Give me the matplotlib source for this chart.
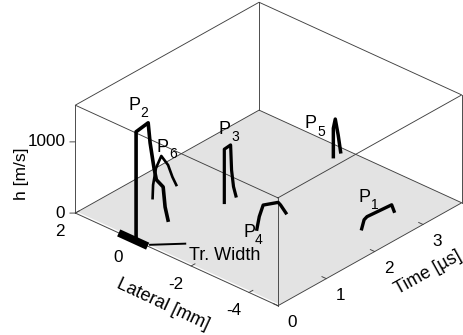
import numpy as np
import matplotlib
matplotlib.use("Agg")
import matplotlib.pyplot as plt
from mpl_toolkits.mplot3d import proj3d

plt.rcParams['font.family'] = ['Liberation Sans', 'DejaVu Sans']

W, H = 464, 335

# axis limits and ticks
time_lim = [0, 3.8]
lat_lim = [-5, 2]
h_lim = [0, 1515]
time_ticks = [0, 1, 2, 3]
lat_ticks = [2, 0, -2, -4]
h_ticks = [0, 1000]

# traces: time [us], lateral [mm], h [m/s]
p1_t = [2.33, 2.38, 2.44, 2.95, 3.00]
p1_l = -4.0
p1_h = [8, 116, 137, 109, 0]

p2_t = [0, 0, 0.25, 0.29, 0.37, 0.42, 0.56, 0.60, 0.66]
p2_l = -0.1
p2_h = [0, 1532, 1563, 1266, 883, 698, 544, 247, 40]

p3_t = [1.60, 1.60, 1.73, 1.75, 1.79, 1.84]
p3_l = -0.475
p3_h = [0, 748, 759, 397, 150, 0]

p4_t = [1.36, 1.41, 1.49, 1.80, 1.85, 1.96]
p4_l = -2.0
p4_h = [0, 158, 289, 209, 153, 0]

p5_t = [3.54, 3.54, 3.58, 3.64, 3.69]
p5_l = -1.0
p5_h = [3, 401, 516, 268, 14]

p6_t = [1.00, 1.01, 1.07, 1.18, 1.32, 1.41, 1.49]
p6_l = 1.0
p6_h = [15, 196, 410, 539, 358, 156, 13]

# transducer width bar and its leader line
bar_l = [-0.5, 0.5]
leader_t = [0.05, 0.40]
leader_l = [-0.5, -1.13]

fig = plt.figure(figsize=(W / 100, H / 100), dpi=100)
ax = fig.add_axes([63.1 / W, -24.4 / H, 400 / W, 400 / H], projection='3d',
                  proj_type='ortho', computed_zorder=False)
ax.set_box_aspect((274, 273, 125), zoom=0.987)
ax.view_init(elev=30.4, azim=-137.9)
ax.set_xlim(time_lim)
ax.set_ylim(lat_lim)
ax.set_zlim(h_lim)
ax.set_axis_off()

# grey floor
X, Y = np.meshgrid(time_lim, lat_lim)
ax.plot_surface(X, Y, np.zeros_like(X), color='#e3e3e3', shade=False,
                linewidth=0, zorder=1)
# light strip the floor leaves beside the lateral edge
ax.plot([0.03, 0.03], lat_lim, [0, 0], color='white', lw=0.8, zorder=1.5)

# wire box
edge = dict(color='#404040', lw=0.65, zorder=2)
for z in h_lim:
    ax.plot([time_lim[0], time_lim[1], time_lim[1], time_lim[0], time_lim[0]],
            [lat_lim[0], lat_lim[0], lat_lim[1], lat_lim[1], lat_lim[0]],
            [z, z, z, z, z], **edge)
for t in time_lim:
    for l in lat_lim:
        ax.plot([t, t], [l, l], h_lim, **edge)


def put(x, y, s, size=13, **kw):
    fig.text(x / W, 1 - y / H, s, fontsize=size, **kw)


def tick_text(t, l, z, s, dx, dy, **kw):
    # label placed at a pixel offset from the projected tick
    x2, y2, _ = proj3d.proj_transform(t, l, z, ax.get_proj())
    px, py = ax.transData.transform((x2, y2))
    put(px + dx, H - py + dy, s, size=12.3, va='center', **kw)


# ticks
for t in time_ticks:
    ax.plot([t, t], [-5, -4.85], [0, 0], **edge)
    tick_text(t, -5, 0, str(t), 14, 17, ha='center')
for l in lat_ticks:
    ax.plot([0, 0.08], [l, l], [0, 0], **edge)
    tick_text(0, l, 0, str(l), -15, 18, ha='center')
for z in h_ticks:
    ax.plot([0, -0.05], [2, 2.1], [z, z], **edge)
    tick_text(0, 2, z, str(z), -10, 0, ha='right')

# traces
for tt, l, hh, w in [(p1_t, p1_l, p1_h, 2.4), (p2_t, p2_l, p2_h, 2.6),
                     (p3_t, p3_l, p3_h, 2.3), (p4_t, p4_l, p4_h, 2.4),
                     (p5_t, p5_l, p5_h, 2.5), (p6_t, p6_l, p6_h, 1.9)]:
    ax.plot(tt, [l] * len(tt), hh, color='black', lw=w, zorder=4,
            solid_joinstyle='round')

ax.plot([0, 0], bar_l, [0, 0], color='black', lw=5.5, zorder=5,
        solid_capstyle='butt')
ax.plot(leader_t, leader_l, [0, 0], color='black', lw=1.4, zorder=4)

# peak labels: P at its baseline, then the subscript lower down
for name, px, py, sx, sy in [('1', 359, 202, 371, 209), ('2', 128, 110, 140, 117),
                             ('3', 219, 134, 231, 141), ('4', 244, 237, 255, 244),
                             ('5', 305, 128, 317, 136), ('6', 157, 152, 169, 158)]:
    put(px, py, 'P', va='baseline')
    put(sx, sy, name, size=10, va='baseline')

put(189, 260, 'Tr. Width', va='baseline')
put(22, 174, 'h [m/s]', size=12.5, rotation=90, ha='center', va='center')
put(163, 304, 'Lateral [mm]', size=13, rotation=-25, ha='center', va='center',
    rotation_mode='anchor')
put(428, 273, 'Time [µs]', size=13, rotation=29, ha='center', va='center',
    rotation_mode='anchor')

fig.savefig('out.png', dpi=100)
